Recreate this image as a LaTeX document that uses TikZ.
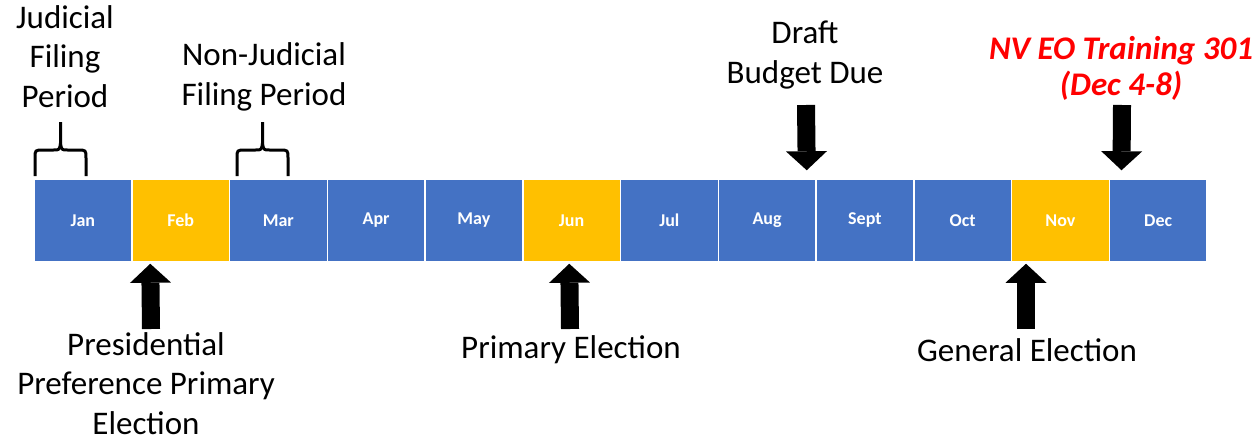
\documentclass[tikz,border=0pt]{standalone}
\usepackage{fontspec}
\setmainfont{Carlito}
\usetikzlibrary{arrows.meta}

\definecolor{monthblue}{HTML}{4472C4}
\definecolor{monthgold}{HTML}{FFC000}
\definecolor{trainred}{HTML}{FF0000}

\tikzset{
	monthbox/.style={draw=white, line width=1.5pt, minimum width=97.75pt, minimum height=83pt,
		inner sep=0pt, text=white, font=\bfseries\fontsize{18}{21}\selectfont},
	eventtext/.style={align=center, anchor=base, inner sep=0pt, font=\fontsize{33}{39.5}\selectfont},
	blockarrow/.style={line width=18pt, -{Triangle[width=41pt,length=19pt,line width=0pt]}},
	filingbrace/.pic={
		\draw[line width=3pt, line join=round]
		(-25.5,0) -- (-25.5,-18) .. controls (-25.5,-26) .. (-17,-26) -- (-7,-26)
		.. controls (-1,-26) .. (0,-33) -- (0,-54);
		\draw[line width=3pt, line join=round]
		(0,-33) .. controls (1,-26) .. (7,-26) -- (17,-26)
		.. controls (25.5,-26) .. (25.5,-18) -- (25.5,0);
	}
}

\begin{document}
\begin{tikzpicture}[x=1pt,y=-1pt]
	\useasboundingbox (0,0) rectangle (1257,439);
	
	% Months
	\foreach \mon/\col/\name [count=\i] in {Jan/monthblue/jan, Feb/monthgold/feb, Mar/monthblue/mar,
		Apr/monthblue/apr, May/monthblue/may, Jun/monthgold/jun, Jul/monthblue/jul, Aug/monthblue/aug,
		Sept/monthblue/sept, Oct/monthblue/oct, Nov/monthgold/nov, Dec/monthblue/dec}
	\node[monthbox, fill=\col] (\name) at ({34+97.75*(\i-0.5)},220.5) {\mon};
	
	% Filing periods (base = last line)
	\pic at (60.5,176) {filingbrace};
	\pic at (262.5,176) {filingbrace};
	\node[eventtext] (judicial) at (65,107) {Judicial\\Filing\\Period};
	\node[eventtext] (nonjudicial) at (264,105) {Non-Judicial\\Filing Period};
	
	% Events above
	\node[eventtext] (draft) at (805,83) {Draft\\Budget Due};
	\node[eventtext, text=trainred, font=\bfseries\itshape\fontsize{33}{36}\selectfont]
	(training) at (1121,95) {NV EO Training 301\\(Dec 4-8)};
	\coordinate (drafttail) at (806,105);
	\coordinate (trainingtail) at (1122,105);
	\draw[blockarrow] (drafttail) -- ([xshift=-10pt,yshift=8pt]aug.north east);
	\draw[blockarrow] (trainingtail) -- ([xshift=13pt,yshift=8pt]dec.north west);
	
	% Elections below
	\node[eventtext] (presidential) at (146,434) {Presidential\\Preference Primary\\Election};
	\node[eventtext] (primary) at (571,358) {Primary Election};
	\node[eventtext] (general) at (1027,361) {General Election};
	\coordinate (presidentialtail) at (151,329);
	\coordinate (primarytail) at (570,329);
	\coordinate (generaltail) at (1026,329);
	\draw[blockarrow] (presidentialtail) -- ([xshift=19.25pt,yshift=-1pt]feb.south west);
	\draw[blockarrow] (primarytail) -- ([xshift=47.25pt,yshift=-1pt]jun.south west);
	\draw[blockarrow] (generaltail) -- ([xshift=15.25pt,yshift=-1pt]nov.south west);
	
\end{tikzpicture}
\end{document}
